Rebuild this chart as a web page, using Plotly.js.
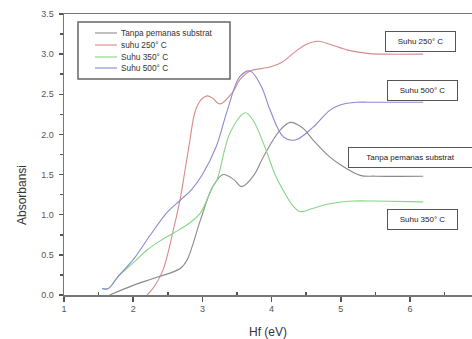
<!DOCTYPE html>
<html>
<head>
<meta charset="utf-8">
<script src="https://cdn.plot.ly/plotly-3.0.1.min.js"></script>
<style>html,body{margin:0;padding:0;background:#fff;overflow:hidden}#chart{width:472px;height:339px}</style>
</head>
<body>
<div id="chart"></div>
<script>
// Series names
const seriesNames = ["Tanpa pemanas substrat", "suhu 250° C", "Suhu 350° C", "Suhu 500° C"];
const seriesColors = ["#8a8a8a", "#d98a8a", "#86d686", "#8a8ad0"];

// Tanpa pemanas substrat
const xTanpa = [1.66, 2.0, 2.34, 2.68, 2.78, 2.97, 3.15, 3.3, 3.45, 3.57, 3.75, 3.88, 4.12, 4.27, 4.45, 4.6, 4.84, 5.0, 5.28, 5.5, 6.19];
const yTanpa = [0, 0.12, 0.22, 0.33, 0.44, 0.93, 1.35, 1.5, 1.44, 1.35, 1.5, 1.72, 2.05, 2.15, 2.08, 1.93, 1.72, 1.62, 1.49, 1.48, 1.48];

// suhu 250° C
const x250 = [2.2, 2.3, 2.43, 2.58, 2.68, 2.75, 2.82, 2.89, 2.97, 3.07, 3.15, 3.25, 3.44, 3.54, 3.69, 3.85, 3.98, 4.15, 4.37, 4.5, 4.67, 4.85, 5.1, 5.38, 5.6, 6.19];
const y250 = [0, 0.1, 0.31, 0.81, 1.2, 1.56, 1.93, 2.27, 2.42, 2.48, 2.45, 2.38, 2.53, 2.68, 2.79, 2.82, 2.84, 2.9, 3.05, 3.12, 3.16, 3.12, 3.05, 3.01, 3.0, 3.0];

// Suhu 350° C
const x350 = [1.55, 1.64, 1.77, 2.0, 2.2, 2.4, 2.58, 2.82, 2.97, 3.15, 3.21, 3.4, 3.62, 3.73, 3.9, 4.05, 4.17, 4.3, 4.41, 4.6, 4.8, 5.18, 5.5, 6.19];
const y350 = [0.08, 0.08, 0.22, 0.40, 0.56, 0.68, 0.77, 0.90, 1.02, 1.35, 1.43, 2.02, 2.27, 2.18, 1.85, 1.50, 1.30, 1.12, 1.04, 1.08, 1.13, 1.17, 1.17, 1.16];

// Suhu 500° C
const x500 = [1.55, 1.64, 1.8, 2.0, 2.25, 2.49, 2.68, 2.85, 3.0, 3.2, 3.36, 3.54, 3.69, 3.85, 3.98, 4.17, 4.34, 4.6, 4.84, 5.0, 5.23, 5.5, 6.19];
const y500 = [0.08, 0.08, 0.25, 0.44, 0.75, 1.03, 1.18, 1.32, 1.5, 1.85, 2.3, 2.72, 2.79, 2.6, 2.30, 1.97, 1.93, 2.09, 2.30, 2.37, 2.40, 2.40, 2.40];

// Callout labels
const calloutText = ["Suhu 250° C", "Suhu 500° C", "Tanpa pemanas substrat", "Suhu 350° C"];

// Tick labels
const xTicks = [1, 2, 3, 4, 5, 6];
const yTicks = [0, 0.5, 1, 1.5, 2, 2.5, 3, 3.5];
const yTickText = ["0.0", "0.5", "1.0", "1.5", "2.0", "2.5", "3.0", "3.5"];

const xs = [xTanpa, x250, x350, x500];
const ys = [yTanpa, y250, y350, y500];

const FONT = "Liberation Sans, Arial, sans-serif";

const traces = seriesNames.map((n, i) => ({
  type: "scatter", mode: "lines", name: n, x: xs[i], y: ys[i],
  line: {color: seriesColors[i], width: 1.1, shape: "spline", smoothing: 1}
}));

const W = 472, H = 339, L = 64, R = 0, T = 14, B = 44;
const pw = W - L - R, ph = H - T - B;
const px = v => (v - L) / pw;
const py = v => (H - B - v) / ph;

// Callout boxes
const calloutPos = [[420, 41], [422, 90], [410, 157], [422, 219]];
const calloutW = [63, 63, 117, 63];
const annotations = calloutText.map((t, i) => ({
  text: t, xref: "paper", yref: "paper", x: px(calloutPos[i][0]), y: py(calloutPos[i][1]),
  xanchor: "center", yanchor: "middle", showarrow: false, width: calloutW[i], height: 13,
  font: {family: FONT, size: 8, color: "#222"},
  bordercolor: "#555", borderwidth: 1, borderpad: 3, bgcolor: "#fff"
}));
annotations.push({
  text: "Absorbansi", xref: "paper", yref: "paper", x: px(22), y: py(195),
  xanchor: "center", yanchor: "middle", textangle: -90, showarrow: false,
  font: {family: FONT, size: 12, color: "#333"}
});

// Hand-built legend box (compact, like the original)
const legRowY = [33, 45, 57, 68];
const shapes = [{
  type: "rect", xref: "paper", yref: "paper",
  x0: px(78), x1: px(230), y0: py(22), y1: py(79),
  line: {color: "#666", width: 1.5}, fillcolor: "rgba(255,255,255,0)", layer: "above"
}];
seriesNames.forEach((n, i) => {
  shapes.push({
    type: "line", xref: "paper", yref: "paper",
    x0: px(95), x1: px(117), y0: py(legRowY[i]), y1: py(legRowY[i]),
    line: {color: seriesColors[i], width: 1.1}
  });
  annotations.push({
    text: n, xref: "paper", yref: "paper", x: px(119), y: py(legRowY[i]),
    xanchor: "left", yanchor: "middle", showarrow: false,
    font: {family: FONT, size: 8.3, color: "#333"}
  });
});

const layout = {
  width: W, height: H,
  margin: {l: L, r: R, t: T, b: B, pad: 0},
  paper_bgcolor: "#fff", plot_bgcolor: "#fff",
  showlegend: false,
  xaxis: {
    range: [1, 1 + pw / 69.2], showgrid: false, zeroline: false,
    showline: true, linecolor: "#777", linewidth: 1.5, mirror: true,
    tickmode: "array", tickvals: xTicks, ticktext: xTicks.map(String),
    ticks: "outside", ticklen: 5, tickwidth: 1.5, tickcolor: "#555",
    minor: {tickvals: [1.5, 2.5, 3.5, 4.5, 5.5, 6.5], ticks: "inside", ticklen: 3, tickcolor: "#555", tickwidth: 1.5},
    tickfont: {family: FONT, size: 9, color: "#555"},
    title: {text: "Hf (eV)", standoff: 14, font: {family: FONT, size: 12, color: "#333"}}
  },
  yaxis: {
    range: [0, 3.5], showgrid: false, zeroline: false,
    showline: true, linecolor: "#777", linewidth: 1.5,
    tickmode: "array", tickvals: yTicks, ticktext: yTickText,
    ticks: "outside", ticklen: 4, tickwidth: 1.5, tickcolor: "#555",
    ticklabelstandoff: 3,
    minor: {tickvals: [0.25, 0.75, 1.25, 1.75, 2.25, 2.75, 3.25], ticks: "outside", ticklen: 3, tickcolor: "#555", tickwidth: 1.5},
    tickfont: {family: FONT, size: 9, color: "#555"}
  },
  shapes: shapes,
  annotations: annotations
};

Plotly.newPlot("chart", traces, layout, {displayModeBar: false, staticPlot: true});
</script>
</body>
</html>
